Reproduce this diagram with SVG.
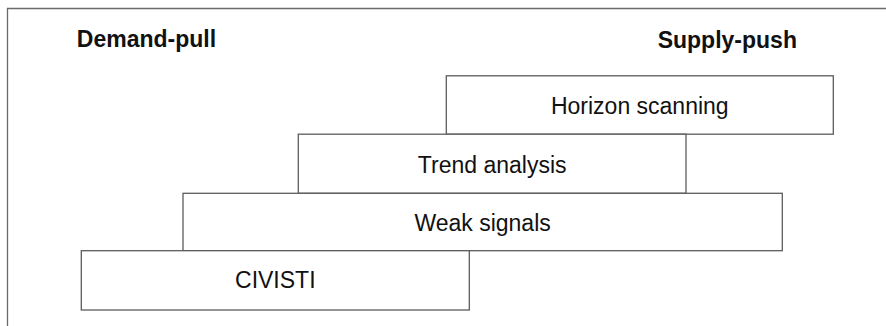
<svg xmlns="http://www.w3.org/2000/svg" width="886" height="326" viewBox="0 0 886 326">
  <style>
    .frame { fill: none; stroke: #6a6a6a; stroke-width: 1.3; }
    .box rect { fill: #ffffff; stroke: #5c5c5c; stroke-width: 1.3; }
    .box text { font-family: "Liberation Sans", Arial, sans-serif; font-size: 23px; fill: #111111; text-anchor: middle; }
    .heading { font-family: "Liberation Sans", Arial, sans-serif; font-size: 23px; font-weight: bold; fill: #111111; text-anchor: middle; }
  </style>
  <rect x="0" y="0" width="886" height="326" fill="#ffffff"/>

  <!-- outer frame: top and left rules -->
  <path class="frame" d="M7.5 326 V8.5 H886"/>

  <!-- axis headings -->
  <text class="heading" x="146.5" y="46.7">Demand-pull</text>
  <text class="heading" x="727.3" y="48">Supply-push</text>

  <!-- stacked methods, staircase from demand-pull to supply-push -->
  <g id="horizon-scanning" class="box">
    <rect x="446.3" y="75.8" width="387" height="58.4"/>
    <text x="639.8" y="113.5">Horizon scanning</text>
  </g>
  <g id="trend-analysis" class="box">
    <rect x="298.3" y="134.2" width="387.7" height="59.1"/>
    <text x="492.2" y="173.3">Trend analysis</text>
  </g>
  <g id="weak-signals" class="box">
    <rect x="183" y="193.3" width="599.3" height="57.4"/>
    <text x="482.6" y="230.7">Weak signals</text>
  </g>
  <g id="civisti" class="box">
    <rect x="81.3" y="250.7" width="388" height="59.3"/>
    <text x="275.3" y="288.3">CIVISTI</text>
  </g>

  <!-- no connectors in this diagram -->
  <g id="connectors"/>
</svg>
